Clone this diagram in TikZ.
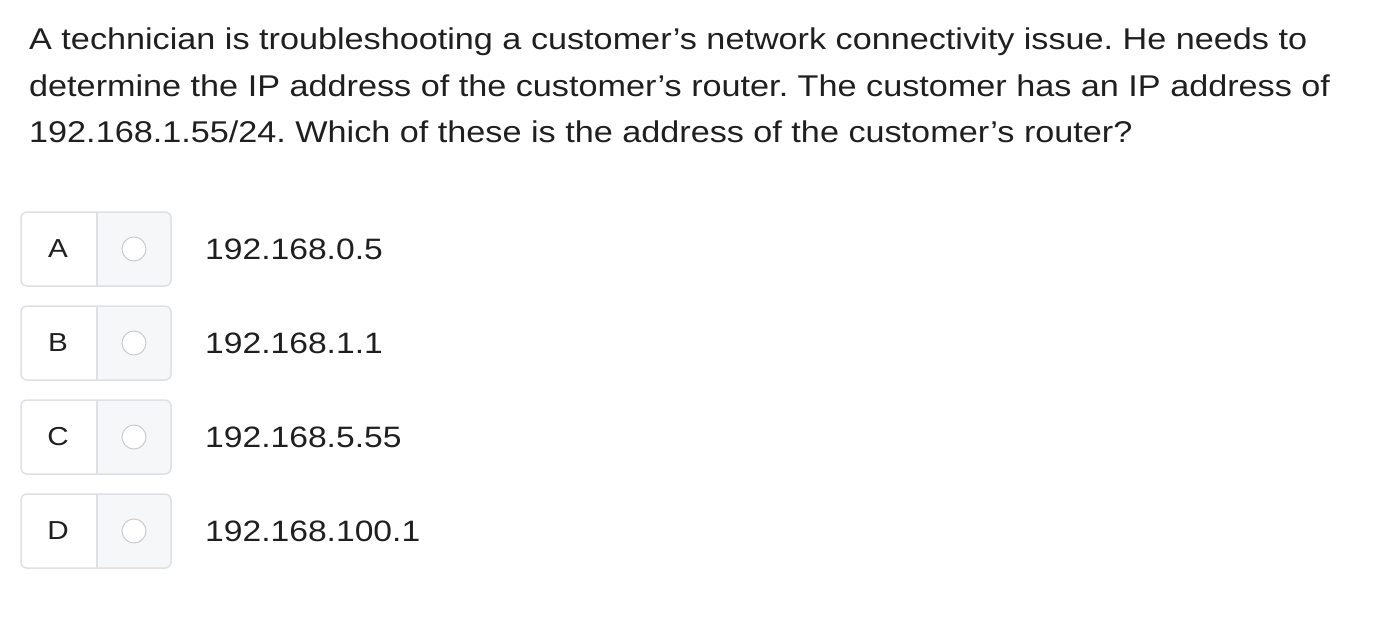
\documentclass[tikz,border=0pt]{standalone}
\usepackage{fontspec}
\setmainfont[FakeStretch=1.14]{Liberation Sans}
\definecolor{txt}{HTML}{1F1F1F}
\definecolor{bord}{HTML}{DDE0E4}
\definecolor{lightbg}{HTML}{F6F7F9}
\definecolor{circ}{HTML}{C8CBCF}
\newcommand{\ap}{{\char"27}}
\begin{document}
\begin{tikzpicture}[x=1pt,y=-1pt,
  qtext/.style={anchor=base west,inner sep=0pt,text=txt,font=\fontsize{30}{30}\selectfont\frenchspacing},
  letter/.style={anchor=center,inner sep=0pt,text=txt,font=\fontsize{26}{26}\selectfont},
  ans/.style={anchor=west,inner sep=0pt,text=txt,font=\fontsize{29.5}{29.5}\selectfont}]
\useasboundingbox (0,0) rectangle (1390,634);
\node[qtext] (l1) at (29,50) {A technician is troubleshooting a customer\ap s network connectivity issue. He needs to};
\node[qtext] (l2) at (29,96) {determine the IP address of the customer\ap s router. The customer has an IP address of};
\node[qtext] (l3) at (29,142) {192.168.1.55/24. Which of these is the address of the customer\ap s router?};
\foreach \L/\T [count=\i from 0] in {A/192.168.0.5,B/192.168.1.1,C/192.168.5.55,D/192.168.100.1}{
  \pgfmathsetmacro{\yy}{249+94*\i}
  \begin{scope}[yshift=-\yy pt]
  \begin{scope}
  \clip (97,-40) rectangle (175,40);
  \fill[lightbg,rounded corners=6pt] (21,-37) rectangle (171,37);
  \end{scope}
  \draw[bord,line width=1.5pt,rounded corners=6pt] (21,-37) rectangle (171,37);
  \draw[bord,line width=1.5pt] (97,-37) -- (97,37);
  \node[letter] (let\L) at (58,0) {\L};
  \node[circle,draw=circ,fill=white,line width=1pt,minimum size=24pt,inner sep=0pt] (rad\L) at (134,0) {};
  \node[ans] (ans\L) at (205,0) {\T};
  \end{scope}
}
\end{tikzpicture}
\end{document}
